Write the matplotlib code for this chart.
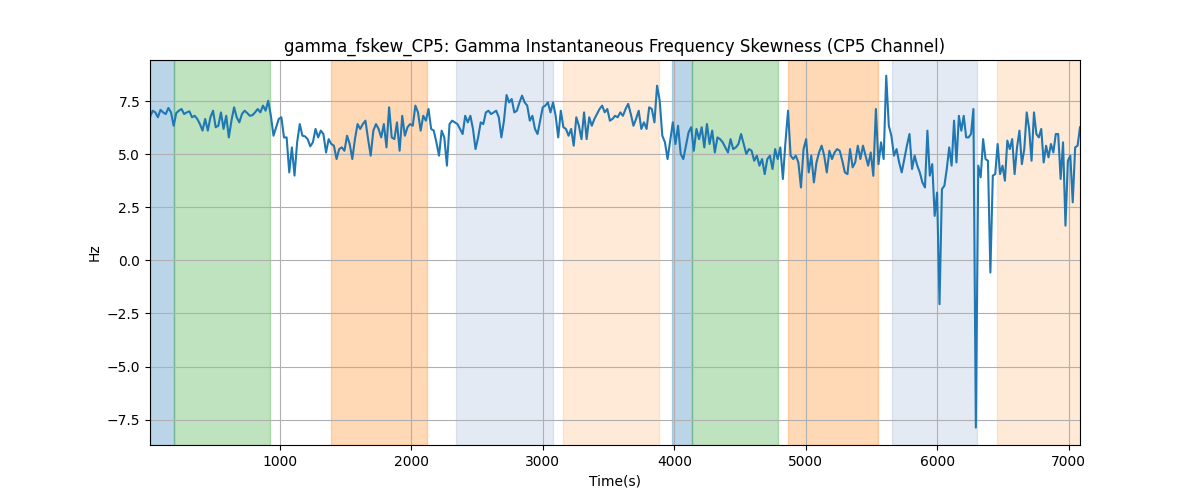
import numpy as np
import matplotlib
matplotlib.use("Agg")
import matplotlib.pyplot as plt

# time span covered by each block of samples (s)
seg_edges = [12, 1191, 2370, 3549, 4727, 5906, 7085]

seg1 = [6.75, 7.06, 6.98, 6.75, 7.1, 6.98, 6.9, 7.19, 6.98, 6.35,
        6.95, 7.06, 7.14, 6.9, 6.98, 7.03, 6.75, 6.82, 6.67, 6.43,
        6.12, 6.67, 6.12, 6.75, 7.06, 6.28, 6.35, 6.98, 6.2, 6.82,
        5.8, 6.59, 7.22, 6.75, 6.51, 6.9, 7.06, 6.95, 6.82, 6.85,
        6.98, 7.14, 6.98, 7.3, 7.06, 7.53, 6.82, 5.88, 6.28, 6.67,
        6.75, 5.8, 5.8, 4.15, 5.33, 4.0, 5.57, 6.43, 5.88]
seg2 = [5.85, 5.72, 5.38, 5.57, 6.2, 5.8, 6.12, 5.96, 5.09, 5.72,
        5.49, 5.41, 4.78, 5.25, 5.33, 5.17, 5.88, 5.49, 4.78, 5.72,
        6.43, 6.2, 6.43, 6.59, 5.72, 4.94, 6.12, 6.43, 6.2, 5.8,
        6.43, 5.33, 7.22, 5.8, 5.72, 6.51, 5.17, 6.82, 5.88, 6.28,
        6.43, 6.35, 7.3, 6.98, 6.12, 6.82, 6.59, 7.14, 6.2, 6.12,
        5.57, 4.94, 6.12, 5.8, 4.47, 6.43, 6.59, 6.51, 6.43]
seg3 = [6.2, 5.96, 6.82, 6.51, 6.82, 6.2, 5.25, 5.8, 6.51, 6.43,
        6.98, 7.06, 6.9, 6.98, 7.06, 6.75, 5.8, 6.59, 7.8, 7.45,
        7.61, 6.98, 7.06, 7.45, 7.77, 7.45, 7.3, 6.59, 6.82, 6.2,
        5.96, 6.59, 7.22, 7.3, 7.45, 6.98, 7.45, 6.82, 5.8, 7.06,
        6.28, 6.2, 5.88, 6.2, 5.41, 6.75, 6.35, 5.72, 6.98, 5.72,
        6.75, 6.35, 6.67, 6.9, 7.14, 7.3, 6.98, 7.14, 6.59, 6.67]
seg4 = [6.82, 6.75, 6.98, 6.82, 7.14, 7.38, 6.9, 6.35, 6.67, 7.06,
        6.2, 6.51, 6.2, 7.22, 7.14, 6.51, 8.24, 7.53, 5.88, 5.57,
        4.78, 5.65, 6.51, 5.49, 6.35, 5.02, 4.78, 5.41, 6.04, 6.28,
        5.17, 6.2, 5.72, 6.28, 5.33, 6.43, 5.49, 6.12, 5.09, 5.8,
        5.72, 5.57, 5.33, 5.09, 5.72, 5.25, 5.33, 5.49, 5.96, 5.49,
        5.02, 5.25, 5.17, 4.7, 4.94, 4.47, 4.78, 4.07, 4.78]
seg5 = [4.94, 4.31, 5.25, 4.78, 5.33, 3.84, 5.57, 7.06, 4.94, 4.78,
        4.94, 4.62, 3.44, 5.25, 5.72, 4.15, 4.94, 3.68, 4.62, 5.09,
        5.41, 4.94, 4.15, 5.17, 4.78, 5.09, 5.25, 5.17, 4.7, 4.15,
        4.07, 5.25, 4.39, 4.62, 5.41, 4.78, 5.41, 4.94, 4.47, 5.09,
        3.99, 7.14, 4.54, 5.57, 4.78, 8.71, 6.35, 5.88, 4.94, 5.25,
        4.62, 4.15, 4.78, 5.41, 5.96, 4.31, 4.94, 4.47, 4.15, 3.68]
seg6 = [3.44, 6.12, 4.0, 4.54, 2.1, 3.2, -2.06, 3.36, 3.52, 4.31,
        5.33, 4.47, 6.59, 4.62, 6.82, 6.12, 6.82, 5.8, 5.8, 5.96,
        7.14, -7.88, 4.47, 3.92, 5.72, 4.78, 4.7, -0.57, 4.0, 4.07,
        5.49, 4.07, 4.47, 3.76, 5.65, 5.25, 5.72, 4.07, 5.33, 6.12,
        4.54, 5.25, 6.98, 6.2, 4.7, 6.98, 5.96, 5.8, 6.2, 4.62,
        5.41, 4.86, 5.49, 5.09, 5.96, 5.96, 3.84, 5.57, 1.64, 4.7,
        4.94, 2.74, 5.33, 5.41, 6.28]
segments = [seg1, seg2, seg3, seg4, seg5, seg6]

# shaded periods: (start, end, colour, alpha)
span_start = [12, 194, 1388, 2338, 3152, 3981, 4133, 4863, 5654, 6452]
span_end = [194, 924, 2118, 3076, 3882, 4133, 4787, 5548, 6300, 7085]
span_color = ["tab:blue", "tab:green", "tab:orange", "#4c72b0", "tab:orange",
              "tab:blue", "tab:green", "tab:orange", "#4c72b0", "tab:orange"]
span_alpha = [0.3, 0.3, 0.3, 0.15, 0.16, 0.3, 0.3, 0.3, 0.15, 0.16]

times = np.concatenate([
    np.linspace(seg_edges[i], seg_edges[i + 1], len(s), endpoint=(i == len(segments) - 1))
    for i, s in enumerate(segments)
])
values = np.concatenate([np.array(s) for s in segments])

fig, ax = plt.subplots(figsize=(12, 5), dpi=100)
for s, e, c, a in zip(span_start, span_end, span_color, span_alpha):
    ax.axvspan(s, e, color=c, alpha=a)
ax.plot(times, values, color="tab:blue", linewidth=1.5)
ax.set_xlim(times[0], times[-1])
ax.set_ylim(-8.7, 9.45)
ax.grid(True)
ax.set_title("gamma_fskew_CP5: Gamma Instantaneous Frequency Skewness (CP5 Channel)")
ax.set_xlabel("Time(s)")
ax.set_ylabel("Hz")
fig.savefig("out.png")
